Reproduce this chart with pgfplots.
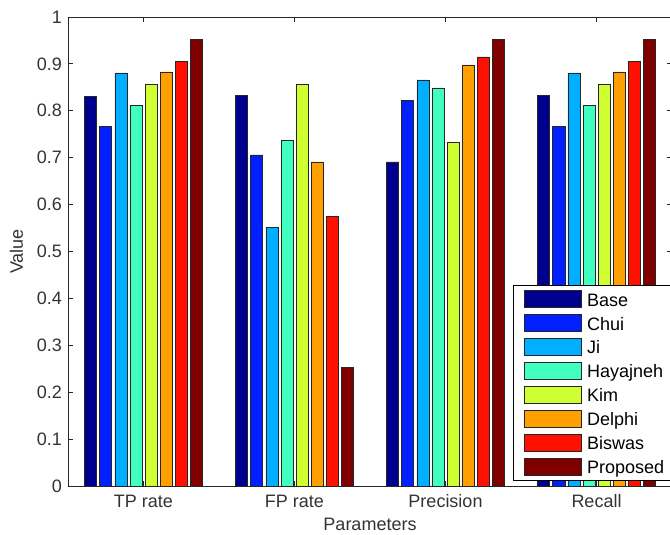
\documentclass[border=0pt]{standalone}
\usepackage{fontspec}
\setmainfont{Liberation Sans}
\usepackage{pgfplots}
\pgfplotsset{compat=1.18}
\usetikzlibrary{calc}
\definecolor{c1}{rgb}{0,0,0.5625}
\definecolor{c2}{rgb}{0,0.125,1}
\definecolor{c3}{rgb}{0,0.6875,1}
\definecolor{c4}{rgb}{0.25,1,0.75}
\definecolor{c5}{rgb}{0.8125,1,0.1875}
\definecolor{c6}{rgb}{1,0.625,0}
\definecolor{c7}{rgb}{1,0.0625,0}
\definecolor{c8}{rgb}{0.5,0,0}
\newcommand\fs{\fontsize{18}{21}\selectfont}
\begin{document}
\begin{tikzpicture}
\begin{axis}[
  scale only axis, width=604pt, height=469pt,
  xmin=0.5, xmax=4.5, ymin=0, ymax=1,
  ybar=3.02pt, bar width=12.08pt,
  xtick={1,2,3,4}, xticklabels={TP rate,FP rate,Precision,Recall},
  ytick={0,0.1,0.2,0.3,0.4,0.5,0.6,0.7,0.8,0.9,1},
  tick align=inside, major tick length=5pt,
  axis line style={black!85, line width=0.8pt},
  every tick/.style={black!85, line width=0.8pt},
  /pgf/number format/assume math mode=true,
  tick label style={font=\fs, text=black!80},
  yticklabel style={inner sep=0pt, xshift=-6pt},
  xticklabel style={anchor=base, yshift=-21pt},
  xlabel={Parameters}, ylabel={Value},
  label style={font=\fs, text=black!80},
  xlabel style={at={([yshift=-44pt]axis description cs:0.5,0)}, anchor=base},
  ylabel style={at={([xshift=-45pt]axis description cs:0,0.5)}, anchor=base},
  legend style={at={(0.737,0.4286)}, anchor=north west, draw=black, line width=0.8pt, fill=white,
    font=\fs, inner xsep=10pt, inner ysep=5pt, row sep=6.3pt, column sep=6pt,
    nodes={inner sep=0pt, text height=15pt, text depth=1pt}},
  legend cell align=left,
  legend image code/.code={\draw[#1, line width=0.6pt] (0pt,-8.5pt) rectangle (57pt,8.5pt);},
]
\addplot[fill=c1, draw=black!85, line width=0.6pt] coordinates {(1,0.831)(2,0.832)(3,0.691)(4,0.832)};
\addplot[fill=c2, draw=black!85, line width=0.6pt] coordinates {(1,0.766)(2,0.706)(3,0.823)(4,0.766)};
\addplot[fill=c3, draw=black!85, line width=0.6pt] coordinates {(1,0.881)(2,0.552)(3,0.866)(4,0.881)};
\addplot[fill=c4, draw=black!85, line width=0.6pt] coordinates {(1,0.812)(2,0.737)(3,0.849)(4,0.812)};
\addplot[fill=c5, draw=black!85, line width=0.6pt] coordinates {(1,0.856)(2,0.857)(3,0.732)(4,0.856)};
\addplot[fill=c6, draw=black!85, line width=0.6pt] coordinates {(1,0.883)(2,0.691)(3,0.898)(4,0.883)};
\addplot[fill=c7, draw=black!85, line width=0.6pt] coordinates {(1,0.905)(2,0.574)(3,0.915)(4,0.905)};
\addplot[fill=c8, draw=black!85, line width=0.6pt] coordinates {(1,0.953)(2,0.253)(3,0.953)(4,0.953)};
\legend{Base,Chui,Ji,Hayajneh,Kim,Delphi,Biswas,Proposed}
\coordinate (ll) at (rel axis cs:0,0);
\coordinate (ur) at (rel axis cs:1,1);
\end{axis}
\pgfresetboundingbox
\useasboundingbox ($(ll)+(-68pt,-48pt)$) rectangle ($(ur)+(-2pt,17pt)$);
\end{tikzpicture}
\end{document}
